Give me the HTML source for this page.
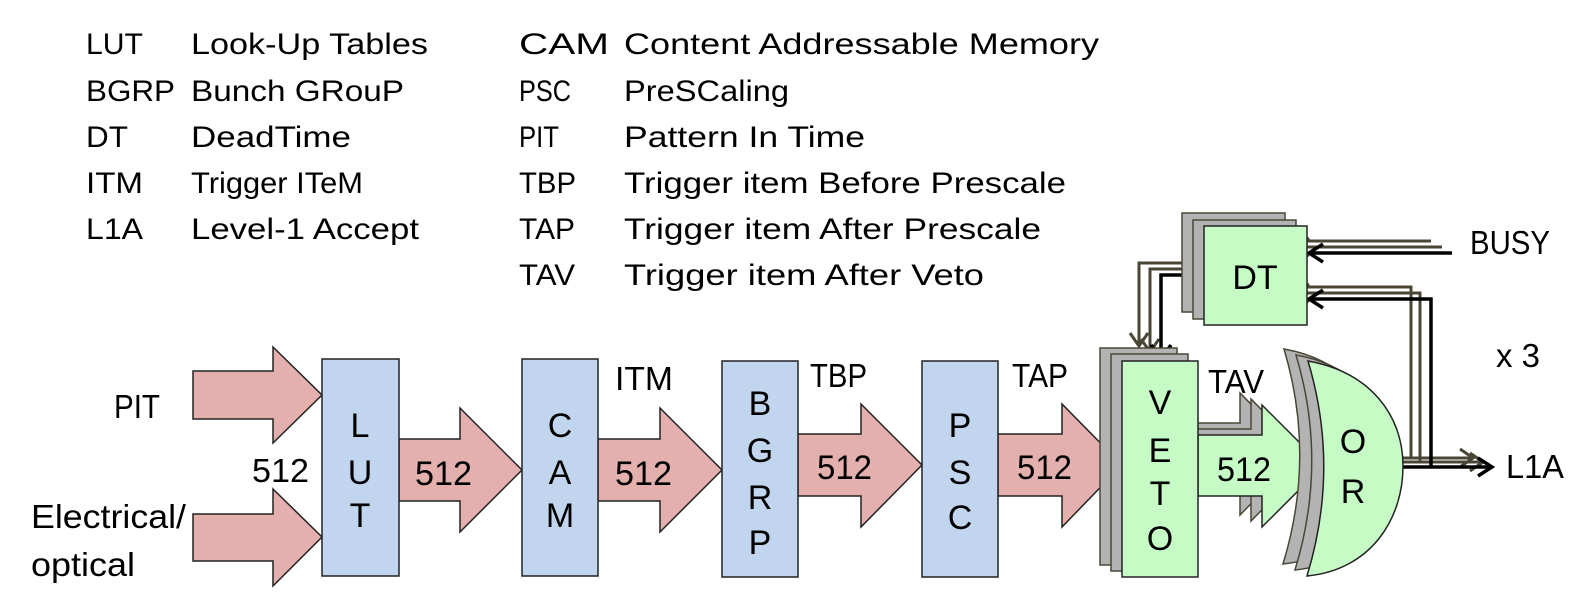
<!DOCTYPE html>
<html><head><meta charset="utf-8"><style>
html,body{margin:0;padding:0;background:#fff;}
svg{display:block;}
text{font-family:"Liberation Sans",sans-serif;fill:#000;}
</style></head><body>
<svg width="1596" height="611" viewBox="0 0 1596 611" xmlns="http://www.w3.org/2000/svg">
<g font-size="30">
<text x="86" y="54" textLength="57" lengthAdjust="spacingAndGlyphs">LUT</text>
<text x="191" y="54" textLength="237" lengthAdjust="spacingAndGlyphs">Look-Up Tables</text>
<text x="86" y="101" textLength="89" lengthAdjust="spacingAndGlyphs">BGRP</text>
<text x="191" y="101" textLength="213" lengthAdjust="spacingAndGlyphs">Bunch GRouP</text>
<text x="86" y="147" textLength="42" lengthAdjust="spacingAndGlyphs">DT</text>
<text x="191" y="147" textLength="160" lengthAdjust="spacingAndGlyphs">DeadTime</text>
<text x="86" y="193" textLength="57" lengthAdjust="spacingAndGlyphs">ITM</text>
<text x="191" y="193" textLength="172" lengthAdjust="spacingAndGlyphs">Trigger ITeM</text>
<text x="86" y="239" textLength="57" lengthAdjust="spacingAndGlyphs">L1A</text>
<text x="191" y="239" textLength="228" lengthAdjust="spacingAndGlyphs">Level-1 Accept</text>
<text x="519" y="54" textLength="90" lengthAdjust="spacingAndGlyphs">CAM</text>
<text x="624" y="54" textLength="475" lengthAdjust="spacingAndGlyphs">Content Addressable Memory</text>
<text x="519" y="101" textLength="52" lengthAdjust="spacingAndGlyphs">PSC</text>
<text x="624" y="101" textLength="165" lengthAdjust="spacingAndGlyphs">PreSCaling</text>
<text x="519" y="147" textLength="40" lengthAdjust="spacingAndGlyphs">PIT</text>
<text x="624" y="147" textLength="241" lengthAdjust="spacingAndGlyphs">Pattern In Time</text>
<text x="519" y="193" textLength="57" lengthAdjust="spacingAndGlyphs">TBP</text>
<text x="624" y="193" textLength="442" lengthAdjust="spacingAndGlyphs">Trigger item Before Prescale</text>
<text x="519" y="239" textLength="56" lengthAdjust="spacingAndGlyphs">TAP</text>
<text x="624" y="239" textLength="417" lengthAdjust="spacingAndGlyphs">Trigger item After Prescale</text>
<text x="519" y="285" textLength="56" lengthAdjust="spacingAndGlyphs">TAV</text>
<text x="624" y="285" textLength="360" lengthAdjust="spacingAndGlyphs">Trigger item After Veto</text>
</g>

<g font-size="33">
<text x="114" y="418" textLength="46" lengthAdjust="spacingAndGlyphs">PIT</text>
<text x="31" y="528" textLength="155" lengthAdjust="spacingAndGlyphs">Electrical/</text>
<text x="31" y="576" textLength="104" lengthAdjust="spacingAndGlyphs">optical</text>
<text x="252" y="482" textLength="57" lengthAdjust="spacingAndGlyphs">512</text>
<text x="615" y="390" textLength="58" lengthAdjust="spacingAndGlyphs">ITM</text>
<text x="810" y="387" textLength="57" lengthAdjust="spacingAndGlyphs">TBP</text>
<text x="1012" y="387" textLength="56" lengthAdjust="spacingAndGlyphs">TAP</text>
<text x="1208" y="393" textLength="56" lengthAdjust="spacingAndGlyphs">TAV</text>
<text x="1470" y="254" textLength="80" lengthAdjust="spacingAndGlyphs">BUSY</text>
<text x="1496" y="367" textLength="44" lengthAdjust="spacingAndGlyphs">x 3</text>
<text x="1506" y="478" textLength="58" lengthAdjust="spacingAndGlyphs">L1A</text>
</g>

<g fill="#e3b0ad" stroke="#222" stroke-width="1.5">
<polygon points="193,371 273,371 273,347 322,395 273,443 273,419 193,419"/>
<polygon points="193,514 273,514 273,489 322,537 273,586 273,561 193,561"/>
<polygon points="399,439 460,439 460,408 522,470 460,532 460,501 399,501"/>
<polygon points="598,439 660,439 660,408 722,470 660,532 660,501 598,501"/>
<polygon points="798,434 861,434 861,404 922,465 861,527 861,496 798,496"/>
<polygon points="998,434 1062,434 1062,404 1122,465 1062,527 1062,496 998,496"/>
</g>

<g fill="#c2d5ee" stroke="#222" stroke-width="1.5">
<rect x="322" y="359" width="77" height="217"/>
<rect x="522" y="359" width="76" height="217"/>
<rect x="722" y="361" width="76" height="216"/>
<rect x="922" y="361" width="76" height="216"/>
</g>

<g font-size="34" text-anchor="middle">
<text x="360" y="437">L</text><text x="360" y="484">U</text><text x="360" y="527">T</text>
<text x="560" y="437">C</text><text x="560" y="484">A</text><text x="560" y="527">M</text>
<text x="760" y="415">B</text><text x="760" y="462">G</text><text x="760" y="509">R</text><text x="760" y="554">P</text>
<text x="960" y="437">P</text><text x="960" y="484">S</text><text x="960" y="529">C</text>
</g>
<g font-size="34">
<text x="415" y="485" textLength="57" lengthAdjust="spacingAndGlyphs">512</text>
<text x="615" y="485" textLength="57" lengthAdjust="spacingAndGlyphs">512</text>
<text x="817" y="479" textLength="55" lengthAdjust="spacingAndGlyphs">512</text>
<text x="1017" y="479" textLength="55" lengthAdjust="spacingAndGlyphs">512</text>
</g>

<g fill="none" stroke-width="3" stroke-linejoin="miter">
<g stroke="#4a4636">
<path d="M1182,263 H1139 V346"/><polyline points="1130,333 1139,346 1148,333"/>
<path d="M1193,269 H1150 V352"/><polyline points="1141,339 1150,352 1159,339"/>
<path d="M1431,241 H1285"/><polyline points="1298,232 1285,241 1298,250"/>
<path d="M1442,247 H1296"/><polyline points="1309,238 1296,247 1309,256"/>
<path d="M1411,458 V287 H1285"/><polyline points="1298,278 1285,287 1298,296"/>
<path d="M1420,462 V293 H1296"/><polyline points="1309,284 1296,293 1309,302"/>
<path d="M1395,458 H1473"/><polyline points="1460,449 1473,458 1460,467"/>
<path d="M1395,462 H1483"/><polyline points="1470,453 1483,462 1470,471"/>
</g>
<g stroke="#000" stroke-width="3.5">
<path d="M1204,275 H1161 V359"/><polyline points="1151,345 1161,359 1171,345"/>
<path d="M1452,253 H1309"/><polyline points="1323,244 1309,253 1323,262"/>
<path d="M1431,467 V299 H1309"/><polyline points="1323,290 1309,299 1323,308"/>
<path d="M1400,467 H1492"/><polyline points="1478,458 1492,467 1478,476"/>
</g>
</g>

<g stroke="#4a4636" stroke-width="1.5">
<rect x="1182" y="213" width="103" height="99" fill="#b3b3b3"/>
<rect x="1193" y="220" width="103" height="99" fill="#b3b3b3"/>
<rect x="1204" y="226" width="103" height="99" fill="#c6fbc6" stroke="#222"/>
</g>
<text x="1255" y="289" font-size="34" text-anchor="middle">DT</text>

<g stroke="#4a4636" stroke-width="1.5">
<rect x="1100" y="348" width="77" height="217" fill="#b3b3b3"/>
<rect x="1111" y="354" width="77" height="217" fill="#b3b3b3"/>
</g>
<g stroke="#4a4636" stroke-width="1.5" fill="#b3b3b3">
<polygon points="1176,423 1240,423 1240,393 1300,454 1240,515 1240,484 1176,484"/>
<polygon points="1187,429 1251,429 1251,399 1311,460 1251,521 1251,490 1187,490"/>
</g>
<polygon points="1198,435 1262,435 1262,405 1323,466 1262,527 1262,496 1198,496" fill="#c6fbc6" stroke="#222" stroke-width="1.5"/>
<rect x="1122" y="361" width="76" height="216" fill="#c6fbc6" stroke="#222" stroke-width="1.5"/>
<g font-size="34" text-anchor="middle">
<text x="1160" y="414">V</text><text x="1160" y="462">E</text><text x="1160" y="505">T</text><text x="1160" y="550">O</text>
</g>
<text x="1217" y="481" font-size="34" textLength="54" lengthAdjust="spacingAndGlyphs">512</text>

<g stroke="#4a4636" stroke-width="1.5" fill="#b3b3b3">
<path d="M1284,349 C1346,360 1379,403 1379,454 C1379,508 1346,558 1283,564 Q1316,456 1284,349 Z"/>
<path d="M1296,355 C1358,366 1391,409 1391,460 C1391,514 1358,564 1295,570 Q1328,462 1296,355 Z"/>
</g>
<path d="M1308,361 C1370,372 1403,415 1403,466 C1403,520 1370,570 1307,576 Q1340,468 1308,361 Z" fill="#c6fbc6" stroke="#222" stroke-width="1.5"/>
<g font-size="34" text-anchor="middle">
<text x="1353" y="453">O</text><text x="1353" y="503">R</text>
</g>
</svg>
</body></html>
